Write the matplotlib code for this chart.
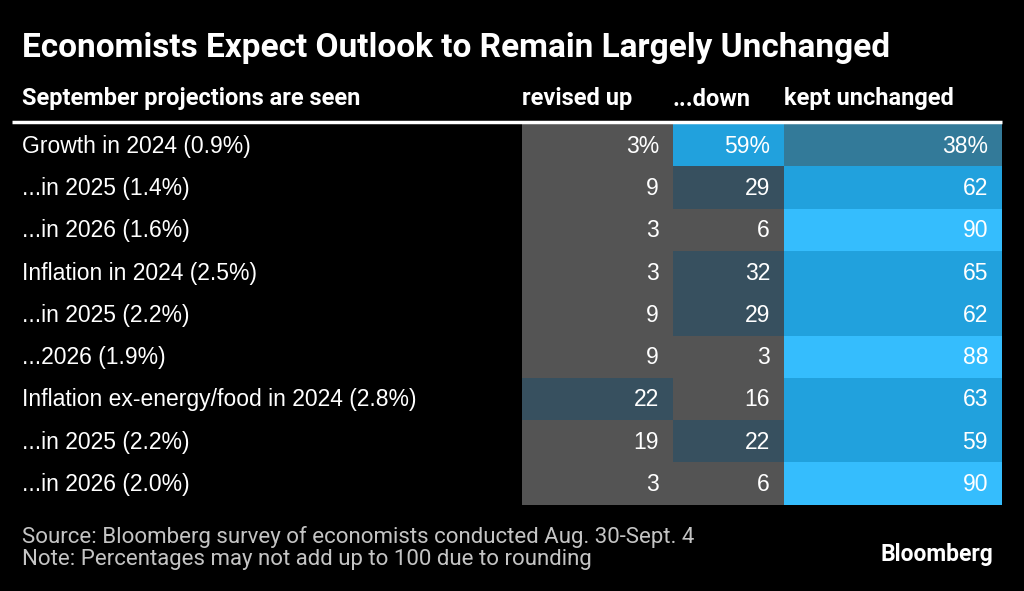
import matplotlib
matplotlib.use("Agg")
import matplotlib.pyplot as plt
from matplotlib import font_manager

rows = [
    "Growth in 2024 (0.9%)",
    "...in 2025 (1.4%)",
    "...in 2026 (1.6%)",
    "Inflation in 2024 (2.5%)",
    "...in 2025 (2.2%)",
    "...2026 (1.9%)",
    "Inflation ex-energy/food in 2024 (2.8%)",
    "...in 2025 (2.2%)",
    "...in 2026 (2.0%)",
]
columns = ["revised up", "...down", "kept unchanged"]
revised_up = [3, 9, 3, 3, 9, 9, 22, 19, 3]
down = [59, 29, 6, 32, 29, 3, 16, 22, 6]
unchanged = [38, 62, 90, 65, 62, 88, 63, 59, 90]

names = {f.name for f in font_manager.fontManager.ttflist}
narrow = "Liberation Sans Narrow" if "Liberation Sans Narrow" in names else "Roboto"
plain = "Liberation Sans"


def cell_color(v):
    if v < 20:
        return "#545454"
    if v < 35:
        return "#37505f"
    if v < 50:
        return "#337a99"
    if v < 75:
        return "#21a1dd"
    return "#35bdfd"


fig = plt.figure(figsize=(10.24, 5.91), dpi=100, facecolor="black")
ax = fig.add_axes([0, 0, 1, 1])
ax.set_facecolor("black")
ax.set_xlim(0, 1024)
ax.set_ylim(591, 0)
ax.axis("off")

# column edges (left, right) in pixels
col_left = [522, 673, 784]
col_right = [673, 784, 1002]
top = 124
row_h = 42.3

data = [revised_up, down, unchanged]
for c, values in enumerate(data):
    ys = [top + row_h * (i + 0.5) for i in range(len(values))]
    ax.barh(ys, col_right[c] - col_left[c], left=col_left[c], height=row_h,
            color=[cell_color(v) for v in values], linewidth=0)
    for i, (y, v) in enumerate(zip(ys, values)):
        label = f"{v}%" if i == 0 else f"{v}"
        ax.text(col_right[c] - 14, y + 1, label, ha="right", va="center",
                color="white", fontsize=16.5, family=plain)

for i, r in enumerate(rows):
    ax.text(22, top + row_h * (i + 0.5) + 1, r, ha="left", va="center",
            color="white", fontsize=16.5, family=plain)

ax.plot([12, 1002], [122, 122], color="white", linewidth=2.5,
        solid_capstyle="butt")

ax.text(22, 48, "Economists Expect Outlook to Remain Largely Unchanged",
        ha="left", va="center", color="white", fontsize=24,
        fontweight="bold", family=narrow)
ax.text(22, 99, "September projections are seen", ha="left", va="center",
        color="white", fontsize=17, fontweight="bold", family=narrow)
for c, name in enumerate(columns):
    ax.text(col_left[c], 99, name, ha="left", va="center", color="white",
            fontsize=17, fontweight="bold", family=narrow)

ax.text(22, 537, "Source: Bloomberg survey of economists conducted Aug. 30-Sept. 4",
        ha="left", va="center", color="#c4c4c4", fontsize=16, family=narrow)
ax.text(22, 560, "Note: Percentages may not add up to 100 due to rounding",
        ha="left", va="center", color="#c4c4c4", fontsize=16, family=narrow)
ax.text(993, 554, "Bloomberg", ha="right", va="center", color="white",
        fontsize=16.5, fontweight="bold", family=narrow)

fig.savefig("out.png", dpi=100, facecolor="black")
